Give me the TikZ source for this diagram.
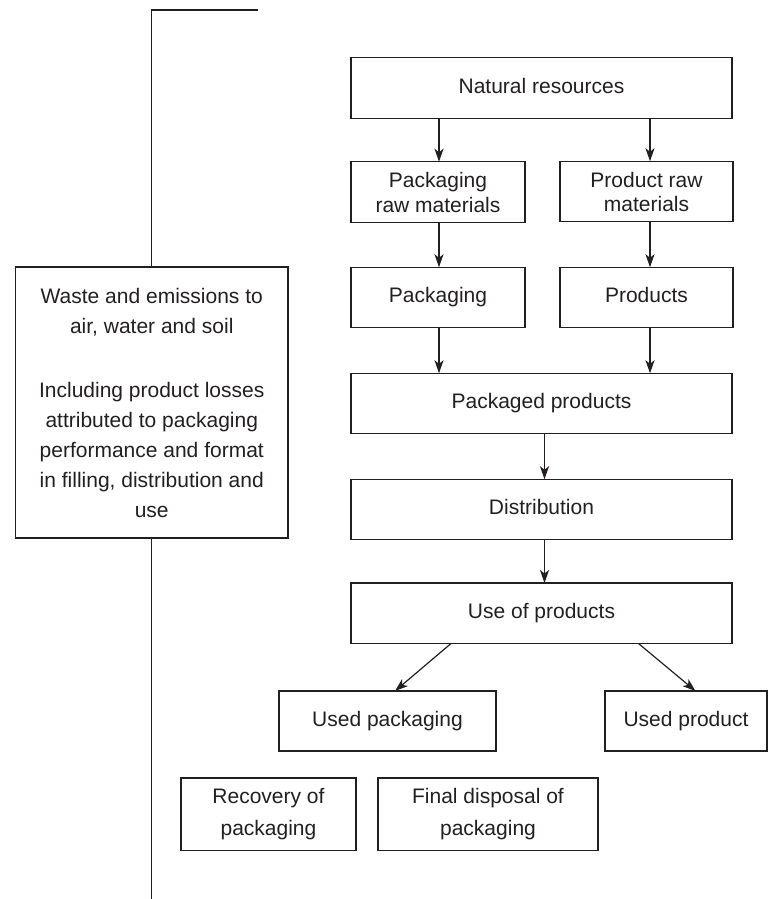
\documentclass[tikz,border=0pt]{standalone}
\usepackage{fontspec}
\setmainfont{Liberation Sans}
\usetikzlibrary{arrows.meta}
\definecolor{ink}{HTML}{231F20}
\begin{document}
\begin{tikzpicture}[x=1pt,y=-1pt,
  box/.style={draw=ink, line width=1.3pt, inner sep=0pt, outer sep=0pt, align=center,
    text=ink, font=\fontsize{21}{25}\selectfont},
  one/.style={text height=15pt, text depth=4.5pt},
  wide/.style={box, minimum width=381pt, minimum height=60.5pt},
  half/.style={box, minimum width=174pt, minimum height=60.5pt},
  arr/.style={draw=ink, line width=1.2pt, -{Stealth[length=13pt,width=9pt,inset=3.5pt]}},
  ln/.style={draw=ink, line width=1.2pt}]
\useasboundingbox (0,0) rectangle (768,899);
\node[wide, one] (nat) at (541.5,88) {Natural resources};
\node[half] (praw) at (438,192) {Packaging\\raw materials};
\node[half, minimum width=173pt] (prodraw) at (646.5,191.5) {Product raw\\[-1pt]materials};
\node[half, one] (pack) at (438,297.5) {Packaging};
\node[half, one, minimum width=173pt] (prods) at (646.5,297.5) {Products};
\node[wide, one] (pkgd) at (541.5,403.5) {Packaged products};
\node[wide, one] (dist) at (541.5,509.5) {Distribution};
\node[wide, one] (use) at (541.5,613.25) {Use of products};
\node[box, one, minimum width=217pt, minimum height=60pt] (upack) at (387.5,721) {Used packaging};
\node[box, one, minimum width=162pt, minimum height=60pt] (uprod) at (686,721) {Used product};
\node[box, minimum width=175pt, minimum height=72.5pt, font=\fontsize{21}{31.5}\selectfont] (recov) at (268.5,814.25) {Recovery of\\packaging};
\node[box, minimum width=220pt, minimum height=72.5pt, font=\fontsize{21}{31.5}\selectfont] (final) at (488,814.25) {Final disposal of\\packaging};
\node[box, minimum width=272.5pt, minimum height=271pt, font=\fontsize{21}{30}\selectfont] (waste) at (151.75,402.5)
  {Waste and emissions to\\air, water and soil\\[34pt]Including product losses\\attributed to packaging\\performance and format\\in filling, distribution and\\use};
\coordinate (topend) at (258,10);
\coordinate (botend) at (151.75,899);
\draw[ln] (topend) -- (topend -| waste.north) -- (waste.north);
\draw[ln] (waste.south) -- (botend);
\draw[arr] ([xshift=1]praw.north |- nat.south) -- ([xshift=1]praw.north);
\draw[arr] ([xshift=3.5]prodraw.north |- nat.south) -- ([xshift=3.5]prodraw.north);
\draw[arr] ([xshift=1]praw.south) -- ([xshift=1]pack.north);
\draw[arr] ([xshift=3.5]prodraw.south) -- ([xshift=3.5]prods.north);
\draw[arr] ([xshift=1]pack.south) -- ([xshift=1]pack.south |- pkgd.north);
\draw[arr] ([xshift=3.5]prods.south) -- ([xshift=3.5]prods.south |- pkgd.north);
\draw[arr] ([xshift=3]pkgd.south) -- ([xshift=3]dist.north);
\draw[arr] ([xshift=3]dist.south) -- ([xshift=3]use.north);
\draw[arr] ([xshift=-90.5]use.south) -- ([xshift=7.5]upack.north);
\draw[arr] ([xshift=97]use.south) -- ([xshift=9.5]uprod.north);
\end{tikzpicture}
\end{document}
